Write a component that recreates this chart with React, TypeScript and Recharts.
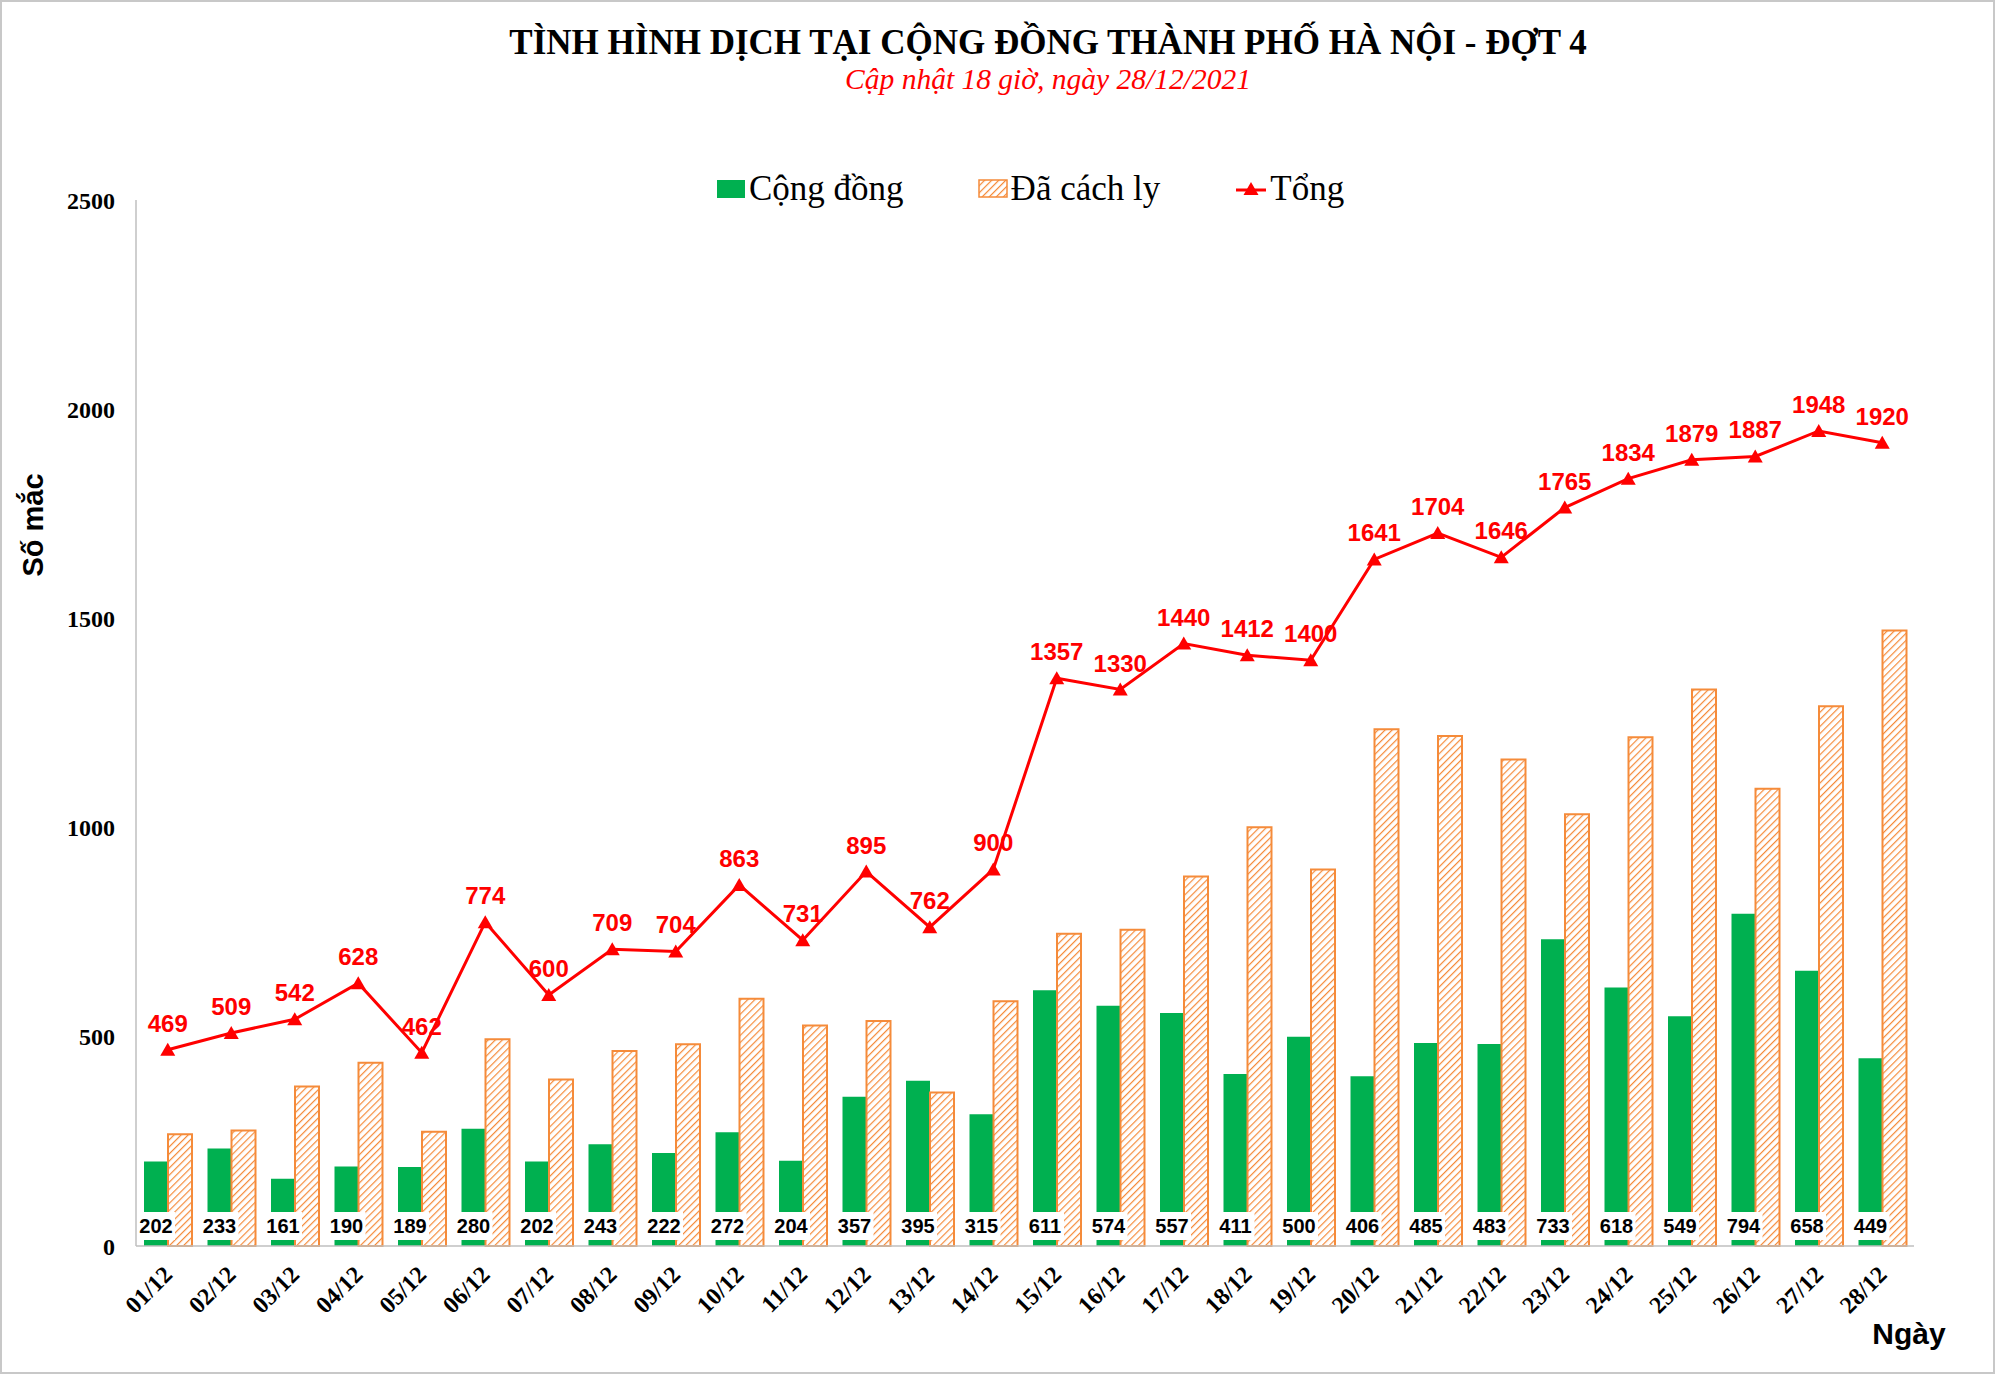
import { Bar, ComposedChart, LabelList, Line, XAxis, YAxis } from 'recharts';

const categories = [
  '01/12', '02/12', '03/12', '04/12', '05/12', '06/12', '07/12', '08/12', '09/12', '10/12',
  '11/12', '12/12', '13/12', '14/12', '15/12', '16/12', '17/12', '18/12', '19/12', '20/12',
  '21/12', '22/12', '23/12', '24/12', '25/12', '26/12', '27/12', '28/12',
];
const congDong = [202, 233, 161, 190, 189, 280, 202, 243, 222, 272, 204, 357, 395, 315, 611, 574, 557, 411, 500, 406, 485, 483, 733, 618, 549, 794, 658, 449];
const daCachLy = [267, 276, 381, 438, 273, 494, 398, 466, 482, 591, 527, 538, 367, 585, 746, 756, 883, 1001, 900, 1235, 1219, 1163, 1032, 1216, 1330, 1093, 1290, 1471];
const tong = [469, 509, 542, 628, 462, 774, 600, 709, 704, 863, 731, 895, 762, 900, 1357, 1330, 1440, 1412, 1400, 1641, 1704, 1646, 1765, 1834, 1879, 1887, 1948, 1920];
const yTicks = [0, 500, 1000, 1500, 2000, 2500];

const SERIF = '"Liberation Serif", "Times New Roman", serif';
const SANS = '"Liberation Sans", Arial, sans-serif';
const GREEN = '#00B050';
const ORANGE = '#F58B3A';
const RED = '#FF0000';
const AXIS = '#BFBFBF';

const data = categories.map((day, i) => ({ day, congDong: congDong[i], daCachLy: daCachLy[i], tong: tong[i] }));

function DayTick({ x, y, payload }: any) {
  return (
    <text
      transform={`translate(${x + 6},${y + 30}) rotate(-45)`}
      textAnchor="end"
      fontFamily={SERIF}
      fontWeight="bold"
      fontSize={24}
      fill="#000"
    >
      {payload.value}
    </text>
  );
}

// label of the green bar, drawn from the hatched bar so it sits on top of both
function GreenLabel(props: any) {
  const vb = props.viewBox ?? props;
  const cx = vb.x - vb.width / 2;
  const base = vb.y + vb.height;
  return (
    <g>
      <rect x={cx - 19} y={base - 34} width={38} height={28} fill="#fff" />
      <text x={cx} y={base - 13} textAnchor="middle" fontFamily={SANS} fontWeight="bold" fontSize={20} fill="#000">
        {props.value}
      </text>
    </g>
  );
}

function TotalLabel(props: any) {
  const x = props.x ?? props.viewBox?.x;
  const y = props.y ?? props.viewBox?.y;
  return (
    <text x={x} y={y - 18} textAnchor="middle" fontFamily={SANS} fontWeight="bold" fontSize={24} fill={RED}>
      {props.value}
    </text>
  );
}

function Triangle({ cx, cy }: { cx: number; cy: number }) {
  return <polygon points={`${cx},${cy - 7} ${cx + 7.5},${cy + 6} ${cx - 7.5},${cy + 6}`} fill={RED} />;
}

function Legend() {
  const text = { fontFamily: SERIF, fontSize: 35, color: '#000', lineHeight: '35px' };
  return (
    <div style={{ position: 'absolute', left: 717, top: 171, display: 'flex', alignItems: 'center', whiteSpace: 'nowrap' }}>
      <svg width={28} height={18} style={{ marginRight: 4 }}>
        <rect x={0} y={0} width={28} height={18} fill={GREEN} />
      </svg>
      <span style={text}>Cộng đồng</span>
      <svg width={30} height={19} style={{ marginLeft: 74, marginRight: 3 }}>
        <rect x={1} y={1} width={28} height={17} fill="url(#hatchLegend)" stroke={ORANGE} strokeWidth={1.5} />
        <defs>
          <pattern id="hatchLegend" patternUnits="userSpaceOnUse" width={5} height={5} patternTransform="rotate(45)">
            <rect width={5} height={5} fill="#fff" />
            <line x1={0} y1={0} x2={0} y2={5} stroke={ORANGE} strokeWidth={2.4} />
          </pattern>
        </defs>
      </svg>
      <span style={text}>Đã cách ly</span>
      <svg width={30} height={16} style={{ marginLeft: 76, marginRight: 4 }}>
        <line x1={0} y1={9} x2={30} y2={9} stroke={RED} strokeWidth={3} />
        <Triangle cx={15} cy={8} />
      </svg>
      <span style={text}>Tổng</span>
    </div>
  );
}

export default function App() {
  return (
    <div style={{ position: 'absolute', left: 0, top: 0, width: 2000, height: 1375, background: '#fff' }}>
      <div
        style={{
          position: 'absolute',
          left: 0,
          top: 0,
          width: 1995,
          height: 1374,
          border: '2px solid #C8C8C8',
          boxSizing: 'border-box',
        }}
      />
      <div
        style={{
          position: 'absolute',
          left: 1048,
          top: 25,
          transform: 'translateX(-50%)',
          whiteSpace: 'nowrap',
          fontFamily: SERIF,
          fontWeight: 'bold',
          fontSize: 35,
          lineHeight: '35px',
          color: '#000',
        }}
      >
        TÌNH HÌNH DỊCH TẠI CỘNG ĐỒNG THÀNH PHỐ HÀ NỘI - ĐỢT 4
      </div>
      <div
        style={{
          position: 'absolute',
          left: 1048,
          top: 65,
          transform: 'translateX(-50%)',
          whiteSpace: 'nowrap',
          fontFamily: SERIF,
          fontStyle: 'italic',
          fontSize: 29.5,
          lineHeight: '29px',
          color: RED,
        }}
      >
        Cập nhật 18 giờ, ngày 28/12/2021
      </div>
      <Legend />
      <div
        style={{
          position: 'absolute',
          left: 33,
          top: 525,
          transform: 'translate(-50%, -50%) rotate(-90deg)',
          whiteSpace: 'nowrap',
          fontFamily: SANS,
          fontWeight: 'bold',
          fontSize: 29,
          color: '#000',
        }}
      >
        Số mắc
      </div>
      <div
        style={{
          position: 'absolute',
          left: 1909,
          top: 1319,
          transform: 'translateX(-50%)',
          whiteSpace: 'nowrap',
          fontFamily: SANS,
          fontWeight: 'bold',
          fontSize: 30,
          lineHeight: '30px',
          color: '#000',
        }}
      >
        Ngày
      </div>
      <div style={{ position: 'absolute', left: 0, top: 0 }}>
        <ComposedChart
          width={2000}
          height={1375}
          data={data}
          barGap={0}
          margin={{ top: 200, right: 86, bottom: 69, left: 76 }}
        >
          <defs>
            <pattern id="hatch" patternUnits="userSpaceOnUse" width={5} height={5} patternTransform="rotate(45)">
              <rect width={5} height={5} fill="#fff" />
              <line x1={0} y1={0} x2={0} y2={5} stroke={ORANGE} strokeWidth={2.4} />
            </pattern>
          </defs>
          <XAxis
            dataKey="day"
            interval={0}
            height={60}
            tickLine={false}
            tickSize={0}
            tickMargin={0}
            axisLine={{ stroke: AXIS, strokeWidth: 1.5 }}
            tick={(p: any) => <DayTick {...p} />}
          />
          <YAxis
            domain={[0, 2500]}
            ticks={yTicks}
            width={60}
            tickLine={false}
            tickSize={0}
            tickMargin={21}
            axisLine={{ stroke: AXIS, strokeWidth: 1.5 }}
            tick={{ fontFamily: SERIF, fontWeight: 'bold', fontSize: 24, fill: '#000' }}
          />
          <Bar dataKey="congDong" fill={GREEN} barSize={24} isAnimationActive={false} />
          <Bar
            dataKey="daCachLy"
            fill="url(#hatch)"
            stroke={ORANGE}
            strokeWidth={2}
            barSize={24}
            isAnimationActive={false}
          >
            <LabelList dataKey="congDong" content={GreenLabel} />
          </Bar>
          <Line
            dataKey="tong"
            stroke={RED}
            strokeWidth={3}
            dot={(p: any) => <Triangle key={p.index} cx={p.cx} cy={p.cy} />}
            activeDot={false}
            isAnimationActive={false}
          >
            <LabelList dataKey="tong" content={TotalLabel} />
          </Line>
        </ComposedChart>
      </div>
    </div>
  );
}
